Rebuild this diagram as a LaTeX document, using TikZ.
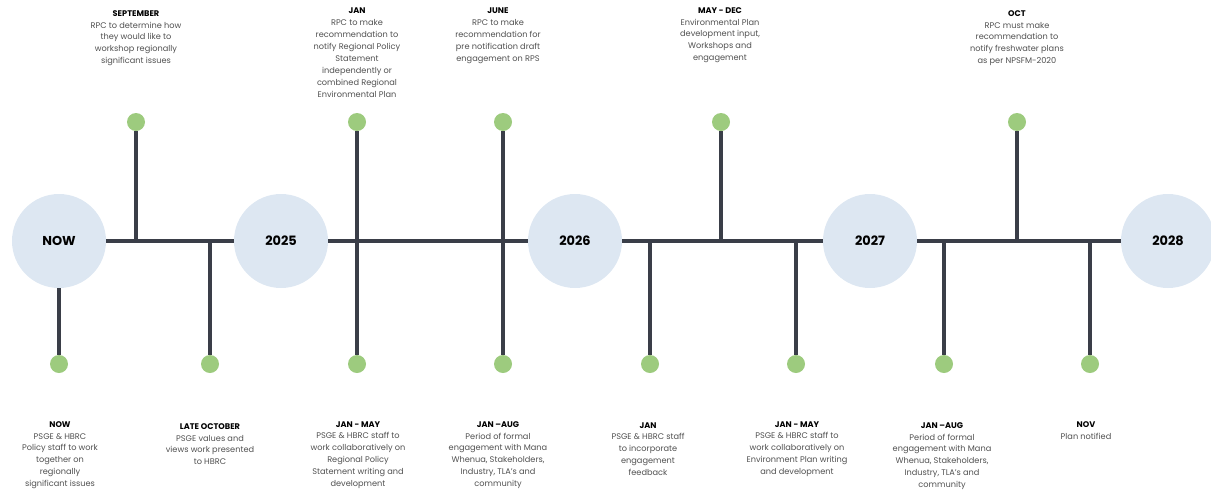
\documentclass[tikz,border=0pt]{standalone}
\usepackage{fontspec}
\setmainfont{Poppins}
\usepackage{xcolor}

\begin{document}
\begin{tikzpicture}[x=0.03cm, y=-0.03cm,
    year/.style={circle, fill=YearBlue, minimum size=2.82cm, inner sep=0pt,
        font=\fontsize{11}{12}\selectfont\bfseries},
    dot/.style={circle, fill=DotGreen, minimum size=0.54cm, inner sep=0pt},
    stem/.style={line width=3pt, draw=LineGrey},
    note/.style={align=center, inner sep=0pt, text=NoteGrey,
        font=\fontsize{7}{10.2}\selectfont}]
    \definecolor{YearBlue}{HTML}{DDE7F2}
    \definecolor{DotGreen}{HTML}{9DCB7E}
    \definecolor{LineGrey}{HTML}{3A3E48}
    \definecolor{NoteGrey}{HTML}{505050}
    \newcommand{\when}[1]{{\color{black}\bfseries #1}}
    \useasboundingbox (0,0) rectangle (1211,497);

    % years along the axis
    \node[year] (now) at (59,241) {NOW};
    \node[year] (y25) at (281,241) {2025};
    \node[year] (y26) at (575,241) {2026};
    \node[year] (y27) at (870,241) {2027};
    \node[year] (y28) at (1168,241) {2028};
    \foreach \a/\b in {now/y25, y25/y26, y26/y27, y27/y28}
        \draw[stem] (\a) -- (\b);

    % dots above and below
    \foreach \name/\x in {sep/136, jan/357, jun/503, may/721, oct/1017}
        \node[dot] (t-\name) at (\x,122) {};
    \foreach \name/\x in {now/59, oct/210, jan/357, aug/503, feb/650,
                          jul/796, sum/944, nov/1090}
        \node[dot] (b-\name) at (\x,364) {};

    % stems
    \coordinate (a-sep) at (136,241);
    \coordinate (a-oct) at (210,241);
    \coordinate (a-may) at (721,241);
    \coordinate (a-feb) at (650,241);
    \coordinate (a-jul) at (796,241);
    \coordinate (a-sum) at (944,241);
    \coordinate (a-oct2) at (1017,241);
    \coordinate (a-nov) at (1090,241);
    \draw[stem] (now) -- (b-now);
    \draw[stem] (a-sep) -- (t-sep);
    \draw[stem] (a-oct) -- (b-oct);
    \draw[stem] (t-jan) -- (b-jan);
    \draw[stem] (t-jun) -- (b-aug);
    \draw[stem] (a-feb) -- (b-feb);
    \draw[stem] (a-may) -- (t-may);
    \draw[stem] (a-jul) -- (b-jul);
    \draw[stem] (a-sum) -- (b-sum);
    \draw[stem] (a-oct2) -- (t-oct);
    \draw[stem] (a-nov) -- (b-nov);

    % notes above
    \node[note, anchor=north] (n-sep) at (136,10) {\when{SEPTEMBER}\\RPC to determine how\\they would like to\\workshop regionally\\significant issues};
    \node[note, anchor=north] (n-jan) at (357,8) {\when{JAN}\\RPC to make\\recommendation to\\notify Regional Policy\\Statement\\independently or\\combined Regional\\Environmental Plan};
    \node[note, anchor=north] (n-jun) at (498,8) {\when{JUNE}\\RPC to make\\recommendation for\\pre notification draft\\engagement on RPS};
    \node[note, anchor=north] (n-may) at (720,7) {\when{MAY - DEC}\\Environmental Plan\\development input,\\Workshops and\\engagement};
    \node[note, anchor=north] (n-oct) at (1017,10) {\when{OCT}\\RPC must make\\recommendation to\\notify freshwater plans\\as per NPSFM-2020};

    % notes below
    \node[note, anchor=north] (m-now) at (60,421) {\when{NOW}\\PSGE \& HBRC\\Policy staff to work\\together on\\regionally\\significant issues};
    \node[note, anchor=north] (m-oct) at (210,423) {\when{LATE OCTOBER}\\PSGE values and\\views work presented\\to HBRC};
    \node[note, anchor=north] (m-jan) at (358,421) {\when{JAN - MAY}\\PSGE \& HBRC staff to\\work collaboratively on\\Regional Policy\\Statement writing and\\development};
    \node[note, anchor=north] (m-aug) at (498,421) {\when{JAN –AUG}\\Period of formal\\engagement with Mana\\Whenua, Stakeholders,\\Industry, TLA's and\\community};
    \node[note, anchor=north] (m-feb) at (648,422) {\when{JAN}\\PSGE \& HBRC staff\\to incorporate\\engagement\\feedback};
    \node[note, anchor=north] (m-jul) at (797,421) {\when{JAN - MAY}\\PSGE \& HBRC staff to\\work collaboratively on\\Environment Plan writing\\and development};
    \node[note, anchor=north] (m-sum) at (942,422) {\when{JAN –AUG}\\Period of formal\\engagement with Mana\\Whenua, Stakeholders,\\Industry, TLA's and\\community};
    \node[note, anchor=north] (m-nov) at (1086,421) {\when{NOV}\\Plan notified};
\end{tikzpicture}
\end{document}
